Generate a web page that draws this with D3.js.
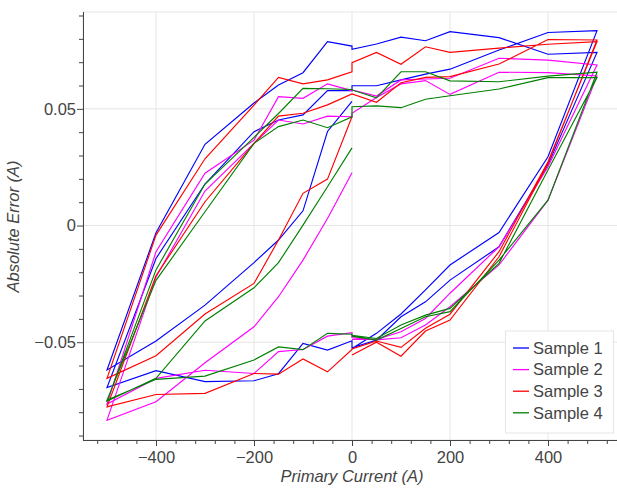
<!DOCTYPE html>
<html><head><meta charset="utf-8">
<script src="https://cdn.jsdelivr.net/npm/d3@7"></script>
<style>
body{margin:0;background:#fff;}
svg{display:block;font-family:"Liberation Sans",Arial,Helvetica,sans-serif;}
</style></head><body>
<svg id="chart" width="617" height="488"></svg>
<script>
// Primary current sweep (A): the measurement order shared by all samples
const primaryCurrent = [
  0,50,100,150,200,300,400,500,
  400,300,200,150,100,50,0,
  0,-50,-100,-150,-200,-300,-400,-500,
  -400,-300,-200,-150,-100,-50,0,
  0,50,100,150,200,300,400,500,
  400,300,200,150,100,50,0,
  0,-50,-100,-150,-200,-300,-400,-500,
  -400,-300,-200,-150,-100,-50,0
];
const sample1Error = [
  -0.0527,-0.0462,-0.0379,-0.0276,-0.0169,-0.0030,0.0295,0.0835,
  0.0827,0.0752,0.0670,0.0649,0.0624,0.0599,0.0599,
  0.0578,0.0578,0.0474,0.0452,0.0402,0.0178,-0.0141,-0.0694,
  -0.0622,-0.0669,-0.0665,-0.0635,-0.0505,-0.0534,-0.0494,
  -0.0524,-0.0491,-0.0391,-0.0327,-0.0234,-0.0091,0.0260,0.0742,
  0.0734,0.0805,0.0831,0.0792,0.0807,0.0778,0.0755,
  0.0769,0.0788,0.0655,0.0602,0.0525,0.0348,-0.0031,-0.0619,
  -0.0495,-0.0341,-0.0159,-0.0062,0.0063,0.0403,0.0532
];
const sample2Error = [
  -0.0488,-0.0488,-0.0455,-0.0398,-0.0290,-0.0091,0.0252,0.0688,
  0.0709,0.0717,0.0631,0.0628,0.0624,0.0555,0.0581,
  0.0578,0.0607,0.0545,0.0552,0.0366,0.0224,-0.0112,-0.0765,
  -0.0655,-0.0620,-0.0634,-0.0540,-0.0531,-0.0474,-0.0459,
  -0.0480,-0.0490,-0.0481,-0.0426,-0.0348,-0.0169,0.0109,0.0641,
  0.0655,0.0657,0.0562,0.0621,0.0607,0.0549,0.0481,
  0.0466,0.0469,0.0435,0.0452,0.0352,0.0148,-0.0220,-0.0834,
  -0.0755,-0.0588,-0.0434,-0.0305,-0.0148,0.0030,0.0226
];
const sample3Error = [
  -0.0555,-0.0500,-0.0560,-0.0452,-0.0405,-0.0134,0.0267,0.0795,
  0.0797,0.0692,0.0638,0.0635,0.0612,0.0528,0.0564,
  0.0564,0.0517,0.0481,0.0469,0.0352,0.0102,-0.0215,-0.0777,
  -0.0724,-0.0719,-0.0634,-0.0637,-0.0572,-0.0627,-0.0531,
  -0.0529,-0.0495,-0.0522,-0.0440,-0.0380,-0.0112,0.0273,0.0788,
  0.0777,0.0760,0.0742,0.0766,0.0691,0.0742,0.0698,
  0.0659,0.0624,0.0607,0.0635,0.0516,0.0286,-0.0041,-0.0655,
  -0.0558,-0.0379,-0.0248,-0.0062,0.0138,0.0199,0.0466
];
const sample4Error = [
  -0.0470,-0.0484,-0.0426,-0.0384,-0.0355,-0.0162,0.0238,0.0634,
  0.0634,0.0585,0.0556,0.0541,0.0505,0.0513,0.0509,
  0.0466,0.0419,0.0452,0.0424,0.0352,0.0059,-0.0235,-0.0748,
  -0.0659,-0.0645,-0.0576,-0.0520,-0.0532,-0.0462,-0.0466,
  -0.0474,-0.0491,-0.0441,-0.0391,-0.0369,-0.0148,0.0109,0.0657,
  0.0640,0.0616,0.0620,0.0659,0.0659,0.0547,0.0581,
  0.0583,0.0586,0.0588,0.0480,0.0378,0.0178,-0.0190,-0.0752,
  -0.0655,-0.0409,-0.0267,-0.0159,0.0002,0.0166,0.0333
];
const seriesNames = ["Sample 1","Sample 2","Sample 3","Sample 4"];
const seriesColors = ["#0000ff","#ff00ff","#ff0000","#008000"];
const xTickValues = [-400,-200,0,200,400];
const xTickLabels = ["\u2212400","\u2212200","0","200","400"];
const yTickValues = [-0.05,0,0.05];
const yTickLabels = ["\u22120.05","0","0.05"];
const xMinorTicks = [-520,-480,-440,-360,-320,-280,-240,-160,-120,-80,-40,40,80,120,160,240,280,320,360,440,480,520];
const yMinorTicks = [-0.09,-0.08,-0.07,-0.06,-0.04,-0.03,-0.02,-0.01,0.01,0.02,0.03,0.04,0.06,0.07,0.08,0.09];

const series = [sample1Error, sample2Error, sample3Error, sample4Error];

const svg = d3.select("#chart");
const L = 83, T = 12, B = 440, R = 621.5;
const x = d3.scaleLinear().domain([-550, 550]).range([82.5, R]);
const y = d3.scaleLinear().domain([-0.0919, 0.0915]).range([B, T]);
const textColor = "#444";
const fontSize = "16.5px";

// plot background, grid, outline
const grid = svg.append("g");
grid.selectAll("line.gx").data(xTickValues).join("line")
  .attr("x1", d => x(d)).attr("x2", d => x(d)).attr("y1", T).attr("y2", B)
  .attr("stroke", "#e5e5e5").attr("stroke-width", 1);
grid.selectAll("line.gy").data(yTickValues).join("line").attr("class","gy")
  .attr("x1", L).attr("x2", R).attr("y1", d => y(d)).attr("y2", d => y(d))
  .attr("stroke", "#e5e5e5").attr("stroke-width", 1);
grid.append("rect").attr("x", L).attr("y", T).attr("width", R - L).attr("height", B - T)
  .attr("fill", "none").attr("stroke", "#e5e5e5");

// series lines
const line = d3.line().x((d, i) => x(primaryCurrent[i])).y(d => y(d));
svg.append("g").selectAll("path").data(series).join("path")
  .attr("d", d => line(d)).attr("fill", "none")
  .attr("stroke", (d, i) => seriesColors[i]).attr("stroke-width", 1.15)
  .attr("stroke-linejoin", "miter");

// axes
const xAxis = svg.append("g").attr("transform", `translate(0,${B})`)
  .call(d3.axisBottom(x).tickValues(xTickValues).tickSize(6).tickSizeOuter(0).tickPadding(5)
    .tickFormat((d, i) => xTickLabels[i]));
const xMinor = svg.append("g").attr("transform", `translate(0,${B})`)
  .call(d3.axisBottom(x).tickValues(xMinorTicks).tickSize(4).tickSizeOuter(0).tickFormat(""));
const yAxis = svg.append("g").attr("transform", `translate(${L},0)`)
  .call(d3.axisLeft(y).tickValues(yTickValues).tickSize(6).tickSizeOuter(0).tickPadding(1)
    .tickFormat((d, i) => yTickLabels[i]));
const yMinor = svg.append("g").attr("transform", `translate(${L},0)`)
  .call(d3.axisLeft(y).tickValues(yMinorTicks).tickSize(4).tickSizeOuter(0).tickFormat(""));
xMinor.select(".domain").remove();
yMinor.select(".domain").remove();
[xAxis, xMinor, yAxis, yMinor].forEach(g => {
  g.selectAll("path, line").attr("stroke", textColor).attr("stroke-width", 1);
  g.selectAll("text").attr("fill", textColor).style("font-size", fontSize)
    .style("font-family", '"Liberation Sans",Arial,Helvetica,sans-serif');
});
yAxis.selectAll(".domain").attr("d", `M0.5,${T}V${B}`);

// axis titles
svg.append("text").attr("x", 352).attr("y", 482).attr("text-anchor", "middle")
  .attr("fill", textColor).style("font-size", fontSize).style("font-style", "italic")
  .text("Primary Current (A)");
svg.append("text").attr("transform", "translate(19,226.5) rotate(-90)").attr("text-anchor", "middle")
  .attr("fill", textColor).style("font-size", fontSize).style("font-style", "italic")
  .text("Absolute Error (A)");

// legend
const lg = svg.append("g");
lg.append("rect").attr("x", 505.5).attr("y", 331).attr("width", 108).attr("height", 102)
  .attr("fill", "#fff").attr("fill-opacity", 0.95).attr("stroke", "#e5e5e5");
seriesNames.forEach((name, i) => {
  const cy = 348 + i * 21.6;
  lg.append("line").attr("x1", 513).attr("x2", 529).attr("y1", cy).attr("y2", cy)
    .attr("stroke", seriesColors[i]).attr("stroke-width", 1.3);
  lg.append("text").attr("x", 533).attr("y", cy).attr("dy", "0.35em")
    .attr("fill", textColor).style("font-size", fontSize).text(name);
});
</script>
</body></html>
